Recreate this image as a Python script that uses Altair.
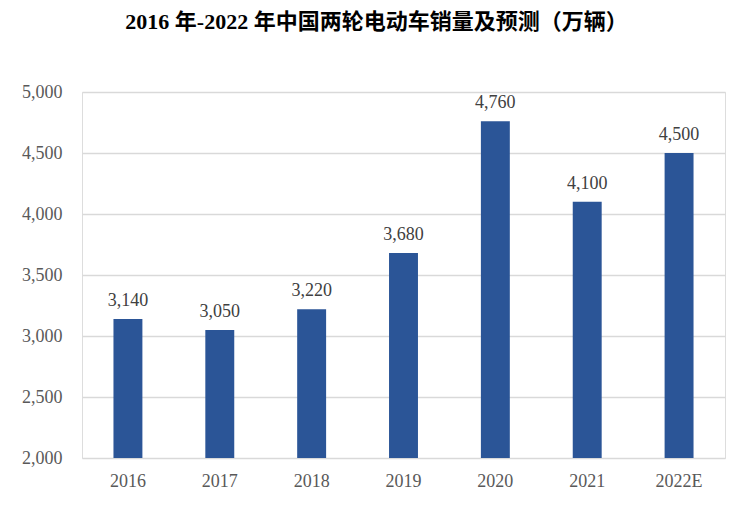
import altair as alt
import pandas as pd

years = ["2016", "2017", "2018", "2019", "2020", "2021", "2022E"]
sales = [3140, 3050, 3220, 3680, 4760, 4100, 4500]

df = pd.DataFrame({"year": years, "sales": sales})

FONT = "Liberation Serif, Noto Sans CJK SC"

base = alt.Chart(df).encode(
    x=alt.X("year:N", sort=years, title=None,
            scale=alt.Scale(paddingInner=0.685, paddingOuter=0.3425),
            axis=alt.Axis(labelAngle=0, ticks=False, domain=False, labelPadding=14,
                          labelFont=FONT, labelFontSize=18, labelColor="#595959")),
    y=alt.Y("sales:Q", title=None,
            scale=alt.Scale(domain=[2000, 5000], nice=False, zero=False),
            axis=alt.Axis(values=[2000, 2500, 3000, 3500, 4000, 4500, 5000], format=",.0f",
                          ticks=False, domain=False, labelPadding=20,
                          grid=True, gridColor="#D9D9D9", gridWidth=1.3,
                          labelFont=FONT, labelFontSize=18, labelColor="#595959")),
)

bars = base.mark_bar(color="#2B5597", clip=True)
labels = base.mark_text(dy=-13, font=FONT, fontSize=18, color="#404040", baseline="alphabetic").encode(
    text=alt.Text("sales:Q", format=",.0f")
)

chart = (bars + labels).properties(
    width=643, height=366,
    autosize=alt.AutoSizeParams(type="none"),
    padding={"left": 74, "top": 84, "right": 12, "bottom": 42},
    title=alt.TitleParams("2016 年-2022 年中国两轮电动车销量及预测（万辆）",
                          font=FONT, fontSize=22, fontWeight="bold", color="#000000",
                          anchor="middle", dx=-27, offset=49),
).configure_view(stroke=None).configure(background="white")

chart.save("out.html", embed_options={"renderer": "svg", "actions": False})
